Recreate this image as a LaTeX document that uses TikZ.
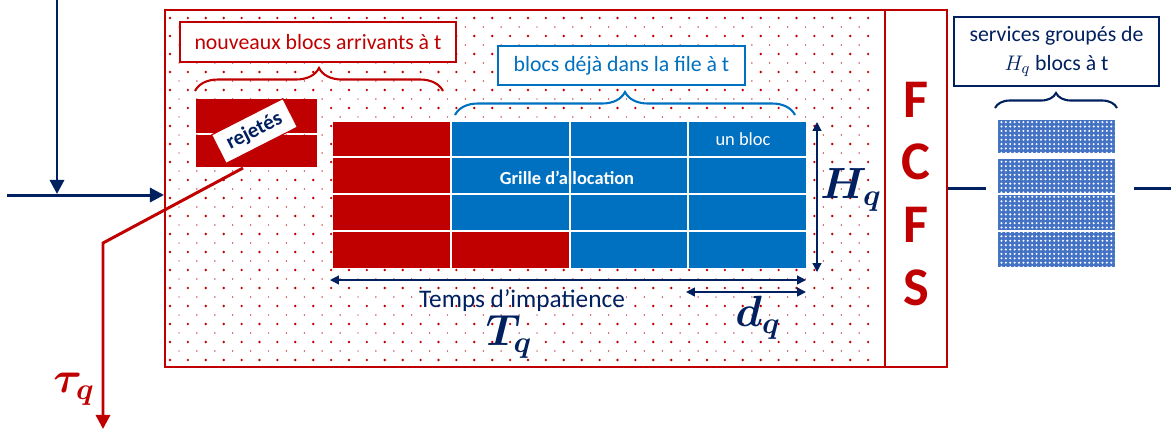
\documentclass[tikz,border=0pt]{standalone}
\usepackage{fontspec}
\setmainfont{Carlito}
\usepackage{bm}
\usetikzlibrary{arrows.meta,decorations.pathreplacing,fit,patterns.meta}
\definecolor{myred}{HTML}{C00000}
\definecolor{myblue}{HTML}{0070C0}
\definecolor{navy}{HTML}{002060}
\definecolor{patblue}{HTML}{4472C4}
\begin{document}
\begin{tikzpicture}[x=0.02cm,y=-0.02cm,
  frame/.style={inner sep=0pt, draw=myred, line width=1.1pt},
  labelbox/.style={fill=white, line width=0.7pt, inner sep=0pt, font=\fontsize{12.4}{15}\selectfont},
  thick arrow/.style={line width=1.7pt, -{Triangle[length=8pt,width=8pt]}},
  thin arrow/.style={navy, line width=0.7pt, {Triangle[length=5pt,width=5pt]}-{Triangle[length=5pt,width=5pt]}},
  bracestyle/.style={line width=1.2pt, decorate},
  mathlabel/.style={font=\fontsize{25}{25}\selectfont},
  fcfsletter/.style={text=myred, font=\fontsize{31}{31}\selectfont\bfseries},
  cellline/.style={white, line width=1.1pt}]
\useasboundingbox (0,0) rectangle (1171,434);

% dotted background of the queue
\foreach \i in {0,...,39}
  \foreach \j in {1,...,20}
    \fill[myred] (170+17.9*\i, 18*\j) circle[radius=0.75pt];
\foreach \i in {0,...,38}
  \foreach \j in {0,...,18}
    \fill[myred] (179+17.9*\i, 27+18*\j) circle[radius=0.42pt];

% main box and FCFS box
\node[frame, fit={(165,10) (885,367)}] (file) {};
\node[frame, fit={(885,10) (947,367)}] (fcfs) {};
\node[fcfsletter] (f1) at (916,100) {F};
\node[fcfsletter] (c1) at (916,162) {C};
\node[fcfsletter] (f2) at (916,225) {F};
\node[fcfsletter] (s1) at (916,288) {S};

% top labels
\node[labelbox, draw=myred, text=myred, minimum width=5.52cm, minimum height=0.8cm] (nouv) at (318,42) {nouveaux blocs arrivants à t};
\draw[myred, bracestyle, decoration={brace, amplitude=0.46cm}] (195,91) -- (443,91);

\node[labelbox, draw=myblue, text=myblue, minimum width=4.94cm, minimum height=0.78cm] (deja) at (621.5,65.5) {blocs déjà dans la file à t};
\draw[myblue, bracestyle, decoration={brace, amplitude=0.46cm}] (455,115) -- (795,115);

% rejected blocks
\fill[myred] (196,99) rectangle (317,133);
\fill[myred] (196,135) rectangle (317,167);
\node[draw=myred, fill=white, line width=0.6pt, rotate=27, minimum width=1.6cm, minimum height=0.64cm, inner sep=0pt, text=navy, font=\fontsize{12}{12}\selectfont\bfseries] (rej) at (254.5,131) {rejetés};

% allocation grid
\fill[myblue] (451,122) rectangle (806,268);
\fill[myred] (333,122) rectangle (451,268);
\fill[myred] (451,231) rectangle (570,268);
\foreach \x in {451,570,688} \draw[cellline] (\x,122) -- (\x,268);
\foreach \y in {157,194,231} \draw[cellline] (333,\y) -- (806,\y);
\node[fit={(333,122) (806,268)}, inner sep=0pt] (grid) {};
\node[text=white, font=\fontsize{10.5}{12}\selectfont] (bloc) at (743,139) {un bloc};
\node[text=white, font=\fontsize{10.5}{12}\selectfont\bfseries] (grille) at (567,178) {Grille d’allocation};

% dimensions
\coordinate (hq1) at (817,122);
\coordinate (hq2) at (817,272);
\draw[thin arrow] (hq1) -- (hq2);
\node[mathlabel, text=navy] (hq) at (851,190) {$\bm{H_q}$};
\coordinate (tq1) at (330,280);
\coordinate (tq2) at (806,280);
\draw[thin arrow] (tq1) -- (tq2);
\coordinate (dq1) at (686,292);
\coordinate (dq2) at (806,292);
\draw[thin arrow, line width=0.9pt] (dq1) -- (dq2);
\node[text=navy, font=\fontsize{14.4}{16}\selectfont] (temps) at (522,301) {Temps d’impatience};
\node[mathlabel, text=navy] (tq) at (509,337) {$\bm{T_q}$};
\node[mathlabel, text=navy] (dq) at (758,318) {$\bm{d_q}$};

% arrivals
\coordinate (vtop) at (57,0);
\coordinate (vbot) at (57,194);
\coordinate (hstart) at (7,195);
\draw[navy, thick arrow] (vtop) -- (vbot);
\draw[navy, thick arrow] (hstart) -- (hstart -| file.west);

% rejection flow
\coordinate (rs) at (243,168);
\coordinate (rk) at (103,243);
\coordinate (rend) at (103,429);
\draw[myred, thick arrow] (rs) -- (rk) -- (rend);
\node[mathlabel, text=myred] (tau) at (74,389) {$\bm{\tau_q}$};

% grouped services
\foreach \ya/\yb in {120/153,159/193,195/230,232/267}
  \path[fill=patblue, postaction={pattern={Dots[radius=0.65pt,distance=2.5pt]}, pattern color=white}] (998,\ya) rectangle (1115,\yb);
\node[fit={(998,120) (1115,267)}, inner sep=0pt] (serv) {};
\draw[navy, bracestyle, decoration={brace, amplitude=0.3cm}] (995,108) -- (1117,108);
\node[labelbox, draw=navy, text=navy, minimum width=4.1cm, minimum height=1.38cm, align=center] (grp) at (1056.5,51.5) {services groupés de\\[1pt] $H_q$ blocs à t};
\coordinate (out) at (1171,188);
\draw[navy, line width=1.7pt] (fcfs.east) -- ++(38,0);
\draw[navy, line width=1.7pt] (out) -- ++(-37,0);
\end{tikzpicture}
\end{document}
